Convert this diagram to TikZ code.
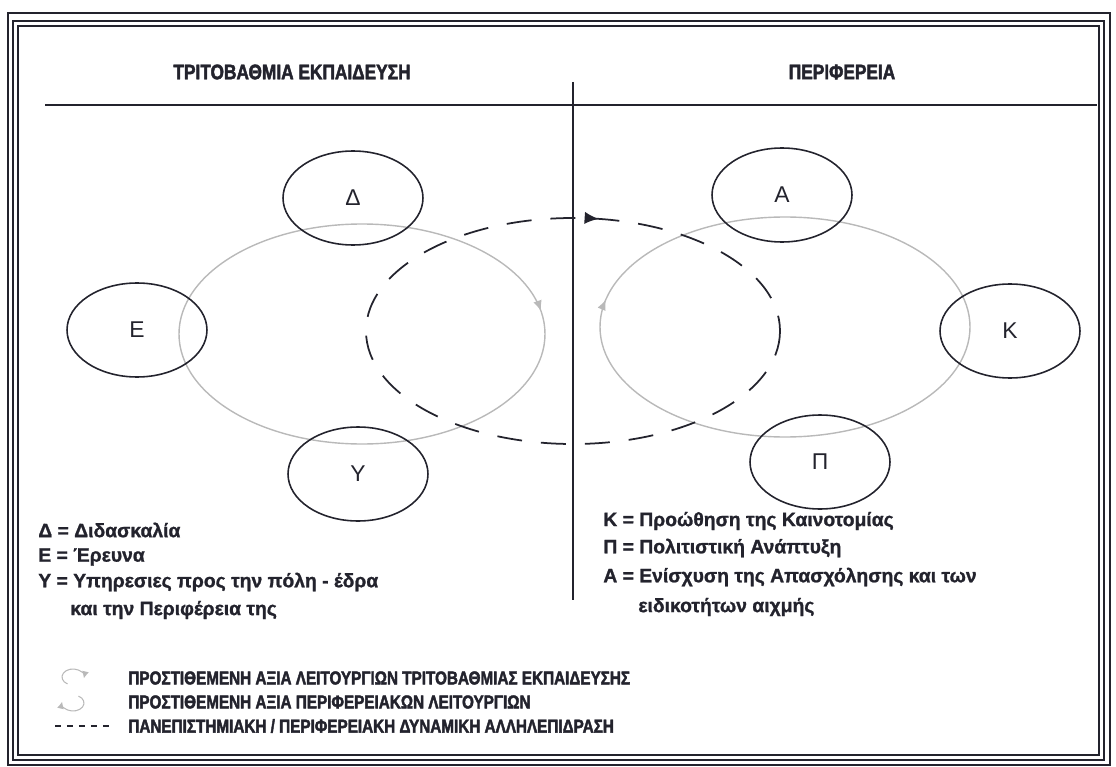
\documentclass[tikz,border=0pt]{standalone}
\usepackage{fontspec}
\setmainfont{Liberation Sans}
\newfontfamily\narrowfont[FakeStretch=0.82, FakeBold=2.2]{Liberation Sans}
\newfontfamily\keyfont[FakeBold=1.2]{Liberation Sans}
\usetikzlibrary{shapes.geometric,decorations.markings,arrows.meta}
\definecolor{inkdark}{RGB}{35,35,45}
\definecolor{loopgray}{RGB}{185,185,185}
\begin{document}
\begin{tikzpicture}[x=0.02cm, y=-0.02cm,
        letter node/.style={draw=inkdark, ellipse, line width=0.9pt, minimum width=2.8cm, minimum height=1.88cm, inner sep=0pt, text=inkdark, font=\fontsize{13}{15}\selectfont},
        head text/.style={inner sep=0pt, text=inkdark, font=\narrowfont\bfseries\fontsize{12}{14}\selectfont},
        key text/.style={anchor=west, inner sep=0pt, text=inkdark, font=\keyfont\bfseries\fontsize{11}{13}\selectfont},
        legend text/.style={anchor=west, inner sep=0pt, text=inkdark, font=\narrowfont\bfseries\fontsize{10.6}{12}\selectfont},
        gray loop/.style={draw=loopgray, line width=0.8pt, postaction={decorate}},
        icon loop/.style={draw=loopgray, line width=0.6pt, -{Latex[length=4pt,width=4pt]}},
        dyn loop/.style={draw=inkdark, line width=1pt, dash pattern=on 0.5cm off 0.38cm, postaction={decorate}}]
    \useasboundingbox (0,0) rectangle (1116,767);
    % frame
    \draw[inkdark, line width=0.6pt] (8,13) rectangle (1110,765);
    \draw[inkdark, line width=0.6pt] (13,21) rectangle (1104,760);
    \draw[inkdark, line width=0.6pt] (18,26) rectangle (1099,755);
    % headings and dividing lines
    \node[head text] (h1) at (292,72) {ΤΡΙΤΟΒΑΘΜΙΑ ΕΚΠΑΙΔΕΥΣΗ};
    \node[head text] (h2) at (842,72) {ΠΕΡΙΦΕΡΕΙΑ};
    \draw[inkdark, line width=0.8pt] (45,105) -- (1097,105);
    \draw[inkdark, line width=0.8pt] (573,82) -- (573,600);
    % value loops
    \draw[gray loop, decoration={markings, mark=at position 0.975 with {\arrow[loopgray]{Latex[length=6pt,width=5pt]}}}]
        (362,334) ellipse [x radius=183, y radius=110];
    \draw[gray loop, decoration={markings, mark=at position 0.53 with {\arrow[loopgray]{Latex[length=6pt,width=5pt]}}}]
        (785,327) ellipse [x radius=185, y radius=110];
    \draw[dyn loop, decoration={markings, mark=at position 0.775 with {\arrow[inkdark]{Latex[length=8pt,width=7pt]}}}]
        (573,331) ellipse [x radius=207, y radius=113];
    % functions
    \node[letter node] (d) at (353,198) {Δ};
    \node[letter node] (e) at (137,330) {Ε};
    \node[letter node] (y) at (358,474) {Υ};
    \node[letter node] (a) at (782,195) {Α};
    \node[letter node] (k) at (1010,331) {Κ};
    \node[letter node] (p) at (820,462) {Π};
    % keys
    \node[key text] (kd) at (38,530) {Δ = Διδασκαλία};
    \node[key text] (ke) at (38,557) {Ε = Έρευνα};
    \node[key text] (ky) at (38,582) {Υ = Υπηρεσιες προς την πόλη - έδρα};
    \node[key text] (ky2) at (70,610) {και την Περιφέρεια της};
    \node[key text] (kk) at (603,521) {Κ = Προώθηση της Καινοτομίας};
    \node[key text] (kp) at (603,548) {Π = Πολιτιστική Ανάπτυξη};
    \node[key text] (ka) at (603,577) {Α = Ενίσχυση της Απασχόλησης και των};
    \node[key text] (ka2) at (638,607) {ειδικοτήτων αιχμής};
    % legend
    \draw[icon loop] (73,677) ++(120:11 and 8) arc [start angle=120, end angle=370, x radius=11, y radius=8];
    \draw[icon loop] (73,703) ++(-60:11 and 8) arc [start angle=-60, end angle=190, x radius=11, y radius=8];
    \draw[inkdark, line width=0.9pt, dash pattern=on 0.12cm off 0.12cm] (55,726) -- (110,726);
    \node[legend text] (l1) at (128,678) {ΠΡΟΣΤΙΘΕΜΕΝΗ ΑΞΙΑ ΛΕΙΤΟΥΡΓΙΩΝ ΤΡΙΤΟΒΑΘΜΙΑΣ ΕΚΠΑΙΔΕΥΣΗΣ};
    \node[legend text] (l2) at (128,702) {ΠΡΟΣΤΙΘΕΜΕΝΗ ΑΞΙΑ ΠΕΡΙΦΕΡΕΙΑΚΩΝ ΛΕΙΤΟΥΡΓΙΩΝ};
    \node[legend text] (l3) at (128,726) {ΠΑΝΕΠΙΣΤΗΜΙΑΚΗ / ΠΕΡΙΦΕΡΕΙΑΚΗ ΔΥΝΑΜΙΚΗ ΑΛΛΗΛΕΠΙΔΡΑΣΗ};
\end{tikzpicture}
\end{document}
